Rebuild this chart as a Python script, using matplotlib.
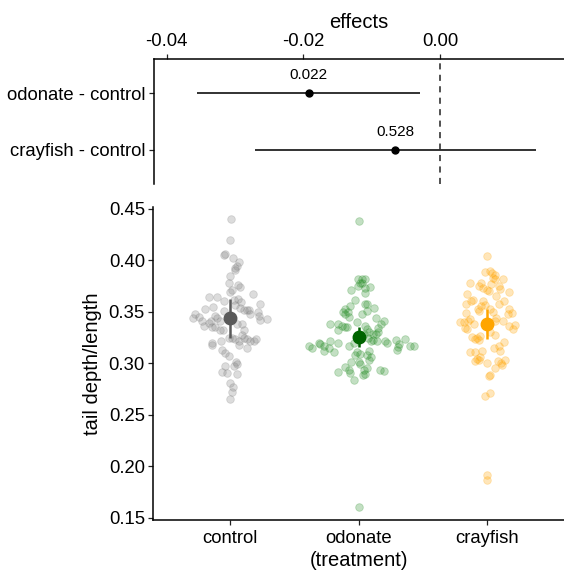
import numpy as np
import matplotlib
matplotlib.use('Agg')
import matplotlib.pyplot as plt

plt.rcParams['font.family'] = ['Liberation Sans', 'DejaVu Sans']

# contrasts (top panel)
contrasts = ['odonate - control', 'crayfish - control']
effect = [-0.0192, -0.0066]
effect_lo = [-0.0355, -0.0271]
effect_hi = [-0.0029, 0.0140]
p_labels = ['0.022', '0.528']

# raw data (bottom panel): value + sina offset
treatments = ['control', 'odonate', 'crayfish']

control_val = [0.440, 0.420, 0.405, 0.406, 0.402, 0.398, 0.395, 0.393, 0.391, 0.385,
               0.378, 0.376, 0.374, 0.371, 0.369, 0.367, 0.364, 0.364, 0.361, 0.362,
               0.363, 0.360, 0.357, 0.358, 0.355, 0.353, 0.351, 0.354, 0.352, 0.352,
               0.352, 0.348, 0.350, 0.346, 0.343, 0.342, 0.348, 0.344, 0.345, 0.341,
               0.336, 0.346, 0.344, 0.341, 0.341, 0.335, 0.335, 0.339, 0.332, 0.332,
               0.338, 0.338, 0.332, 0.328, 0.325, 0.325, 0.324, 0.322, 0.325, 0.324,
               0.322, 0.322, 0.324, 0.320, 0.318, 0.322, 0.318, 0.315, 0.313, 0.310,
               0.307, 0.301, 0.297, 0.299, 0.297, 0.292, 0.291, 0.290, 0.281, 0.277,
               0.272, 0.265]
control_off = [0.005, -0.005, -0.047, -0.039, 0.018, 0.065, 0.052, 0.039, 0.033, -0.005,
               -0.013, 0.059, 0.072, 0.013, 0.000, 0.174, -0.169, -0.104, -0.047, 0.026,
               0.059, 0.085, 0.039, 0.228, -0.135, -0.195, -0.052, 0.072, 0.104, 0.130,
               0.143, 0.156, 0.213, 0.226, 0.285, 0.234, -0.278, -0.294, -0.242, -0.221,
               -0.208, -0.117, -0.104, -0.148, -0.078, -0.122, -0.143, -0.164, -0.057, -0.078,
               0.091, 0.052, 0.104, 0.091, -0.013, 0.013, 0.039, 0.070, 0.104, 0.130,
               0.156, 0.182, 0.202, -0.143, -0.143, -0.070, 0.065, 0.130, -0.065, -0.039,
               -0.013, 0.044, 0.026, 0.052, -0.039, -0.065, -0.026, 0.052, -0.005, 0.021,
               0.013, 0.000]

odonate_val = [0.438, 0.382, 0.382, 0.382, 0.378, 0.378, 0.375, 0.373, 0.374, 0.371,
               0.368, 0.362, 0.358, 0.358, 0.356, 0.354, 0.353, 0.350, 0.350, 0.348,
               0.345, 0.348, 0.351, 0.344, 0.340, 0.338, 0.338, 0.336, 0.335, 0.335,
               0.332, 0.341, 0.338, 0.334, 0.336, 0.333, 0.329, 0.330, 0.329, 0.329,
               0.330, 0.325, 0.323, 0.322, 0.322, 0.320, 0.317, 0.322, 0.320, 0.317,
               0.315, 0.320, 0.319, 0.317, 0.312, 0.315, 0.311, 0.322, 0.320, 0.323,
               0.319, 0.324, 0.316, 0.317, 0.317, 0.313, 0.311, 0.309, 0.308, 0.312,
               0.308, 0.306, 0.303, 0.301, 0.301, 0.299, 0.296, 0.294, 0.292, 0.291,
               0.294, 0.295, 0.290, 0.289, 0.294, 0.293, 0.284, 0.160]
odonate_off = [0.000, -0.005, 0.026, 0.046, 0.013, 0.026, -0.005, 0.052, 0.091, -0.060,
               0.052, -0.026, 0.046, 0.065, -0.071, 0.117, -0.104, -0.122, -0.086, -0.109,
               -0.078, 0.026, 0.065, 0.135, -0.013, -0.226, -0.161, -0.130, -0.104, -0.091,
               -0.161, 0.194, 0.176, 0.150, 0.046, 0.065, 0.039, 0.078, 0.109, 0.135,
               0.150, 0.072, 0.109, 0.143, 0.096, -0.039, -0.078, -0.221, -0.164, -0.390,
               -0.364, -0.312, -0.299, -0.273, -0.273, -0.229, -0.195, 0.208, 0.221, 0.291,
               0.311, 0.363, 0.306, 0.402, 0.428, 0.298, -0.013, 0.013, -0.026, 0.078,
               0.065, 0.098, 0.078, -0.058, 0.000, 0.013, -0.104, -0.078, -0.161, -0.065,
               0.039, 0.065, 0.046, 0.031, 0.169, 0.195, -0.034, 0.000]

crayfish_val = [0.404, 0.389, 0.390, 0.388, 0.386, 0.383, 0.382, 0.382, 0.378, 0.375,
                0.378, 0.373, 0.371, 0.370, 0.377, 0.375, 0.372, 0.369, 0.367, 0.365,
                0.362, 0.361, 0.358, 0.361, 0.357, 0.356, 0.361, 0.358, 0.351, 0.353,
                0.353, 0.350, 0.353, 0.349, 0.348, 0.349, 0.344, 0.341, 0.340, 0.340,
                0.341, 0.343, 0.334, 0.333, 0.338, 0.341, 0.336, 0.337, 0.333, 0.330,
                0.328, 0.326, 0.325, 0.323, 0.324, 0.327, 0.321, 0.315, 0.317, 0.312,
                0.311, 0.311, 0.312, 0.306, 0.304, 0.303, 0.302, 0.300, 0.302, 0.300,
                0.303, 0.298, 0.295, 0.288, 0.289, 0.271, 0.268, 0.192, 0.187]
crayfish_off = [0.001, -0.012, 0.027, 0.040, 0.066, 0.045, 0.060, 0.125, -0.135, -0.064,
                -0.044, -0.031, 0.001, 0.014, 0.034, 0.092, 0.105, 0.170, -0.155, 0.073,
                -0.108, -0.121, -0.163, -0.033, -0.018, -0.044, 0.130, 0.092, -0.064, -0.070,
                0.027, 0.045, 0.170, 0.196, 0.164, -0.163, 0.071, 0.060, -0.207, -0.181,
                -0.148, -0.129, -0.168, -0.155, -0.103, 0.125, 0.175, 0.216, 0.201, 0.027,
                0.060, -0.116, -0.077, -0.064, -0.090, -0.051, 0.136, 0.053, 0.092, 0.105,
                -0.129, -0.096, -0.039, -0.051, -0.077, -0.064, -0.096, 0.001, 0.086, 0.112,
                0.138, 0.117, 0.066, 0.014, 0.027, 0.021, -0.018, 0.001, -0.003]

group_mean = [0.3444, 0.3257, 0.3380]
group_lo = [0.3245, 0.3154, 0.3235]
group_hi = [0.3630, 0.3354, 0.3525]

point_cols = ['#7f7f7f', '#228b22', '#ffa500']
mean_cols = ['#5a5a5a', '#006400', '#ffa500']

fig = plt.figure(figsize=(5.64, 5.73), dpi=100)

## top panel : effects
ax1 = fig.add_axes([154.3/564, 389/573, 1 - 154.3/564, 124.7/573])
ypos = np.arange(1, len(contrasts) + 1)
ax1.axvline(0, color='#222222', lw=1.1, ls=(0, (4, 3.5)))
ax1.hlines(ypos, effect_lo, effect_hi, color='#222222', lw=1.3)
ax1.plot(effect, ypos, 'o', color='black', ms=5)
for i in range(len(contrasts)):
	ax1.text(effect[i], ypos[i] - 0.32, p_labels[i], ha='center', va='center', fontsize=11)
ax1.set_xlim(-0.0418, 0.0181)
ax1.set_ylim(2.6, 0.4)
ax1.set_yticks(ypos)
ax1.set_yticklabels(contrasts)
ax1.set_xticks([-0.04, -0.02, 0.00])
ax1.set_xticklabels(['-0.04', '-0.02', '0.00'])
ax1.xaxis.tick_top()
ax1.xaxis.set_label_position('top')
ax1.set_xlabel('effects', fontsize=14.5, labelpad=3)
ax1.spines['bottom'].set_visible(False)
ax1.spines['right'].set_visible(False)
for s in ['top', 'left']:
	ax1.spines[s].set_linewidth(1.1)
ax1.tick_params(labelsize=13.3, length=3.5, width=0.9, pad=2.5, colors='#222222', labelcolor='black')
ax1.tick_params(axis='x', pad=3.5)

## bottom panel : raw data
ax2 = fig.add_axes([153.3/564, 53/573, 1 - 153.3/564, 313.3/573])
vals = [control_val, odonate_val, crayfish_val]
offs = [control_off, odonate_off, crayfish_off]
for i in range(len(treatments)):
	x = i + 1 + np.array(offs[i])
	ax2.scatter(x, vals[i], s=30, color=point_cols[i], alpha=0.27, edgecolors=point_cols[i], linewidths=0.6, zorder=2)
	ax2.vlines(i + 1, group_lo[i], group_hi[i], color=mean_cols[i], lw=1.8, zorder=3)
	ax2.plot(i + 1, group_mean[i], 'o', color=mean_cols[i], ms=9, zorder=4)
ax2.set_xlim(0.4, 3.6)
ax2.set_ylim(0.1478, 0.4522)
ax2.set_xticks([1, 2, 3])
ax2.set_xticklabels(treatments)
ax2.set_yticks(np.arange(0.15, 0.451, 0.05))
ax2.set_yticklabels(['%.2f' % v for v in np.arange(0.15, 0.451, 0.05)])
ax2.set_ylabel('tail depth/length', fontsize=14.5, labelpad=5)
ax2.set_xlabel('(treatment)', fontsize=14.5, labelpad=2.5)
ax2.spines['top'].set_visible(False)
ax2.spines['right'].set_visible(False)
for s in ['bottom', 'left']:
	ax2.spines[s].set_linewidth(1.1)
ax2.tick_params(labelsize=13.3, length=3.5, width=0.9, pad=2.5, colors='#222222', labelcolor='black')
ax2.tick_params(axis='x', pad=4)

plt.savefig('out.png', dpi=100)
plt.close()
